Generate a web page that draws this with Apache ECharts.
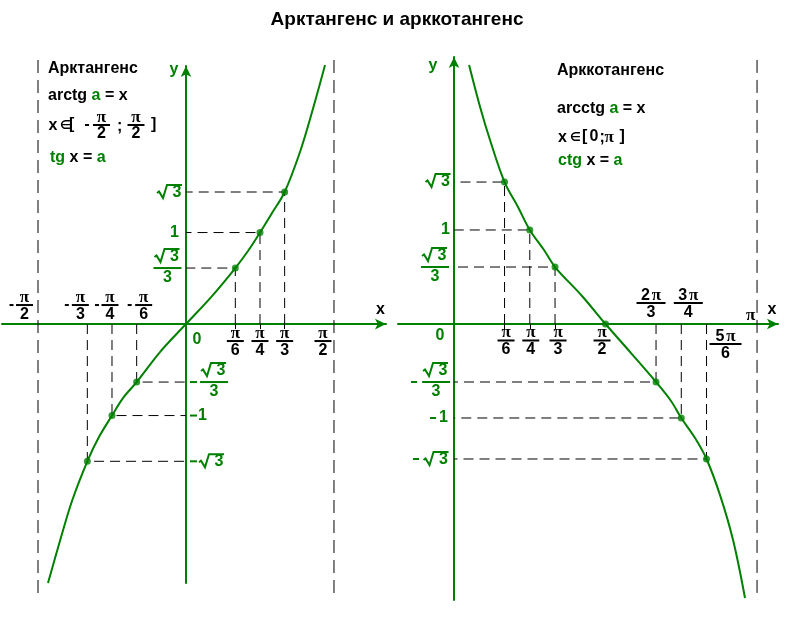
<!DOCTYPE html>
<html><head><meta charset="utf-8">
<script src="https://cdn.jsdelivr.net/npm/echarts@6/dist/echarts.min.js"></script>
<style>html,body{margin:0;padding:0;background:#fff}#c{width:804px;height:623px}</style>
</head><body><div id="c"></div>
<script>
const PI = Math.PI;
// ---------- Left panel: y = tg x (x in radians, y as drawn on the picture's schematic scale)
const tanCurveX = [-1.465, -1.338, -1.210, -PI/3, -0.924, -PI/4, -0.669, -PI/6, -0.276, 0, 0.276, PI/6, 0.658, PI/4, 0.913, PI/3, 1.21, 1.338, 1.476];
const tanCurveY = [-2.831, -2.372, -1.934, -1.50, -1.235, -1.0, -0.809, -0.634, -0.306, 0, 0.306, 0.612, 0.798, 1.0, 1.213, 1.443, 1.88, 2.317, 2.83];
const tanPointsX = [-PI/3, -PI/4, -PI/6, PI/6, PI/4, PI/3];
const tanPointsY = [-1.50, -1.0, -0.634, 0.612, 1.0, 1.443];
const tanAsymptotes = [-PI/2, PI/2];
const tanAsymptoteSpan = [2.885, -3.016];
const tanXTickValues = [-PI/2, -PI/3, -PI/4, -PI/6, PI/6, PI/4, PI/3, PI/2];
const tanXTickLabels = ['-π/2', '-π/3', '-π/4', '-π/6', 'π/6', 'π/4', 'π/3', 'π/2'];
const tanYTickValues = [1.443, 1.0, 0.612, -0.634, -1.0, -1.50];
const tanYTickLabels = ['√3', '1', '√3/3', '-√3/3', '-1', '-√3'];

// ---------- Right panel: y = ctg x
const cotCurveX = [0.156, 0.27, 0.373, PI/6, 0.663, PI/4, 0.933, PI/3, 1.327, PI/2, 1.835, 2*PI/3, 2.25, 3*PI/4, 2.499, 5*PI/6, 2.758, 2.893, 3.017];
const cotCurveY = [2.755, 2.309, 1.957, 1.51, 1.245, 1.0, 0.787, 0.606, 0.298, 0, -0.309, -0.617, -0.819, -1.0, -1.213, -1.436, -1.82, -2.298, -2.915];
const cotPointsX = [PI/6, PI/4, PI/3, PI/2, 2*PI/3, 3*PI/4, 5*PI/6];
const cotPointsY = [1.51, 1.0, 0.606, 0, -0.617, -1.0, -1.436];
const cotAsymptotes = [PI];
const cotAsymptoteSpan = [2.809, -2.936];
const cotXTickValues = [PI/6, PI/4, PI/3, PI/2, 2*PI/3, 3*PI/4, 5*PI/6, PI];
const cotXTickLabels = ['π/6', 'π/4', 'π/3', 'π/2', '2π/3', '3π/4', '5π/6', 'π'];
const cotYTickValues = [1.51, 1.0, 0.606, -0.617, -1.0, -1.436];
const cotYTickLabels = ['√3', '1', '√3/3', '-√3/3', '-1', '-√3'];

// ---------- label layout (pixel offsets from the tick's anchor)
const tanXLayout = [
  {dx:-13.5, dy:-19, mdx:-26.5}, {dx:-7, dy:-19, mdx:-20.5}, {dx:-2, dy:-19, mdx:-15}, {dx:7, dy:-19, mdx:-7},
  {dx:0, dy:17}, {dx:0, dy:17}, {dx:0, dy:17}, {dx:-11, dy:17}
];
const tanYLayout = [
  {dx:-16, dy:0}, {dx:-11.5, dy:0}, {dx:-18.5, dy:0},
  {dx:28, dy:0, mdx:7.5}, {dx:16.5, dy:0, mdx:7.5}, {dx:26, dy:0, mdx:7.5}
];
const cotXLayout = [
  {dx:1.5, dy:16.5}, {dx:1, dy:16.5}, {dx:3, dy:16.5}, {dx:-3.5, dy:16.5},
  {dx:-5, dy:-21}, {dx:7, dy:-21}, {dx:19, dy:20}, {dx:-6.5, dy:-8}
];
const cotYLayout = [
  {dx:-15.5, dy:-1}, {dx:-8.5, dy:0}, {dx:-19, dy:0},
  {dx:-18, dy:0, mdx:-40}, {dx:-10.5, dy:0, mdx:-21}, {dx:-17.5, dy:0, mdx:-38}
];

const G = '#008000';
const K = '#000000';
const SANS = '"Liberation Sans", Arial, sans-serif';
const SERIF = '"Liberation Serif", "Times New Roman", serif';
const FONT = 'bold 16px ' + SANS;
const PFONT = 'bold 17px ' + SERIF;

function richFor(color) {
  return {
    p: {font: PFONT, fill: color},
    n: {font: FONT, fill: color, padding: [0, 2, 0, 0]}
  };
}
function termText(t, cx, cy, color) {
  if (t.indexOf('π') >= 0) {
    const pre = t.replace('π', '');
    const txt = (pre ? '{n|' + pre + '}' : '') + '{p|π}';
    return [{type:'text', style:{text: txt, x: cx, y: cy, align:'center', verticalAlign:'middle', rich: richFor(color), fill: color}}];
  }
  if (t[0] === '√') {
    const d = t.slice(1);
    return [
      {type:'text', style:{text: d, x: cx + 7, y: cy + 0.5, align:'center', verticalAlign:'middle', font: FONT, fill: color}},
      {type:'polyline', shape:{points:[[cx-13, cy+1], [cx-11, cy-0.5], [cx-7, cy+6], [cx-3, cy-7], [cx+12, cy-7]]},
       style:{stroke: color, lineWidth: 2, fill: null}}
    ];
  }
  return [{type:'text', style:{text: t, x: cx, y: cy, align:'center', verticalAlign:'middle', font: FONT, fill: color}}];
}
function barWidth(num) {
  if (num === 'π') return 17;
  if (num[0] === '√') return 28;
  if (num === '5π') return 32;
  return 29;
}
function buildLabel(text, lay, px, py, color, mw) {
  const children = [];
  let body = text;
  const cx = px + lay.dx, cy = py + lay.dy;
  if (text[0] === '-') {
    body = text.slice(1);
    children.push({type:'rect', shape:{x: px + lay.mdx - mw/2, y: cy - 1, width: mw, height: 2}, style:{fill: color}});
  }
  const parts = body.split('/');
  if (parts.length === 2) {
    const w = barWidth(parts[0]);
    children.push({type:'rect', shape:{x: cx - w/2, y: cy - 1, width: w, height: 2}, style:{fill: color}});
    const numOff = parts[0][0] === '√' ? 12 : 7.5;
    children.push(...termText(parts[0], cx, cy - numOff, color));
    children.push(...termText(parts[1], cx, cy + 9.5, color));
  } else {
    children.push(...termText(body, cx, cy, color));
  }
  return {type:'group', children};
}

function labelSeries(gridIdx, items) {
  return {
    type:'custom', xAxisIndex: gridIdx, yAxisIndex: gridIdx, clip:false, silent:true, z:6,
    data: items.map((it, i) => [it.x, it.y, i]),
    renderItem: function (params, api) {
      const it = items[api.value(2)];
      const p = api.coord([api.value(0), api.value(1)]);
      return buildLabel(it.text, it.lay, p[0], p[1], it.color, it.mw);
    }
  };
}
function makeItems(values, labels, layouts, axis, color, mw) {
  return values.map((v, i) => ({
    x: axis === 'x' ? v : 0, y: axis === 'x' ? 0 : v,
    text: labels[i], lay: layouts[i], color, mw
  }));
}

const tanLabels = [].concat(
  makeItems(tanXTickValues, tanXTickLabels, tanXLayout, 'x', K, 4),
  makeItems(tanYTickValues, tanYTickLabels, tanYLayout, 'y', G, 7),
  [{x:0, y:0, text:'0', lay:{dx:11, dy:15.5}, color:G, mw:0}]
);
const cotLabels = [].concat(
  makeItems(cotXTickValues, cotXTickLabels, cotXLayout, 'x', K, 4),
  makeItems(cotYTickValues, cotYTickLabels, cotYLayout, 'y', G, 6),
  [{x:0, y:0, text:'0', lay:{dx:-14, dy:12}, color:G, mw:0}]
);

function zip(xs, ys) { return xs.map((x, i) => [x, ys[i]]); }

function axisX(grid, min, max) {
  return {
    type:'value', gridIndex: grid, min, max,
    axisLine:{show:true, onZero:true, symbol:['none','arrow'], symbolSize:[8, 11], lineStyle:{color:G, width:2}},
    axisTick:{show:true, customValues:[PI/6, PI/4, PI/3], length:5, lineStyle:{color:K, width:1}},
    axisLabel:{show:false}, splitLine:{show:false}
  };
}
function axisY(grid, min, max) {
  return {
    type:'value', gridIndex: grid, min, max,
    axisLine:{show:true, onZero:true, symbol:['none','arrow'], symbolSize:[8, 11], lineStyle:{color:G, width:2}},
    axisTick:{show:false}, axisLabel:{show:false}, splitLine:{show:false}
  };
}

function guideSeries(grid, xs, ys) {
  return xs.map((x, i) => ys[i] === 0 ? null : ({
    type:'line', xAxisIndex:grid, yAxisIndex:grid, symbol:'none', silent:true, z:1,
    data:[[x, 0], [x, ys[i]], [0, ys[i]]],
    lineStyle:{color:K, width:1, type:[10, 6]}
  })).filter(Boolean);
}
function asymptoteSeries(grid, xs, span) {
  return xs.map(x => ({
    type:'line', xAxisIndex:grid, yAxisIndex:grid, symbol:'none', silent:true, clip:false, z:1,
    data:[[x, span[0]], [x, span[1]]],
    lineStyle:{color:K, width:1, type:[13, 7]}
  }));
}

function txt(text, x, y, opt) {
  return {type:'text', silent:true, style:Object.assign({text, x, y, font:FONT, fill:K, verticalAlign:'middle', align:'left'}, opt || {})};
}
function frac(cx, bar, num, den, color) {
  const w = barWidth(num);
  return [
    {type:'rect', silent:true, shape:{x: cx - w/2, y: bar - 1, width: w, height: 2}, style:{fill: color}}
  ].concat(termText(num, cx, bar - 7.5, color), termText(den, cx, bar + 9, color)).map(e => Object.assign(e, {silent:true}));
}
const richG = {g:{font:FONT, fill:G}, p:{font:PFONT, fill:K}};
const EFONT = 'bold 12px "DejaVu Sans"';

const graphic = [].concat(
  [txt('Арктангенс и арккотангенс', 397, 20, {align:'center', font:'bold 19px ' + SANS})],
  // left text block
  [txt('Арктангенс', 48, 69),
   txt('arctg {g|a} = x', 48, 96, {rich: richG}),
   txt('x', 48.5, 126),
   txt('∈', 60, 126, {font: EFONT}),
   txt('[', 69, 125),
   {type:'rect', silent:true, shape:{x:85, y:124, width:4, height:2}, style:{fill:K}}],
  frac(101.5, 125, 'π', '2', K),
  [txt(';', 117, 127)],
  frac(136, 125, 'π', '2', K),
  [txt(']', 151, 125),
   txt('{g|tg} x = {g|a}', 50, 158, {rich: richG})],
  // right text block
  [txt('Арккотангенс', 557, 71),
   txt('arcctg {g|a} = x', 557, 109, {rich: richG}),
   txt('x', 558, 138),
   txt('∈', 570, 138, {font: EFONT}),
   txt('[', 582, 137),
   txt('0', 589.5, 137),
   txt(';', 599.5, 138),
   txt('{p|π}', 604.5, 138, {rich: richG}),
   txt(']', 619.5, 137),
   txt('{g|ctg} x = {g|a}', 558, 161, {rich: richG})],
  // axis names
  [txt('x', 380.5, 310, {align:'center'}),
   txt('y', 174, 70, {align:'center', fill:G}),
   txt('x', 772, 310, {align:'center'}),
   txt('y', 433, 66, {align:'center', fill:G})]
);

const option = {
  animation:false,
  backgroundColor:'#ffffff',
  grid:[
    {left:2, top:66, width:384, height:517},
    {left:398, top:57, width:380, height:543}
  ],
  xAxis:[axisX(0, -1.953, 2.123), axisX(1, -0.581, 3.359)],
  yAxis:[axisY(0, -2.83, 2.82), axisY(1, -2.936, 2.84)],
  graphic,
  series:[].concat(
    asymptoteSeries(0, tanAsymptotes, tanAsymptoteSpan),
    asymptoteSeries(1, cotAsymptotes, cotAsymptoteSpan),
    guideSeries(0, tanPointsX, tanPointsY),
    guideSeries(1, cotPointsX, cotPointsY),
    [
      {type:'line', xAxisIndex:0, yAxisIndex:0, data:zip(tanCurveX, tanCurveY), smooth:0.35,
       showSymbol:false, symbol:'none', lineStyle:{color:G, width:2}, z:3, silent:true},
      {type:'line', xAxisIndex:1, yAxisIndex:1, data:zip(cotCurveX, cotCurveY), smooth:0.35,
       showSymbol:false, symbol:'none', lineStyle:{color:G, width:2}, z:3, silent:true},
      {type:'scatter', xAxisIndex:0, yAxisIndex:0, data:zip(tanPointsX, tanPointsY), symbolSize:7, itemStyle:{color:G}, z:4, silent:true},
      {type:'scatter', xAxisIndex:1, yAxisIndex:1, data:zip(cotPointsX, cotPointsY), symbolSize:7, itemStyle:{color:G}, z:4, silent:true},
      labelSeries(0, tanLabels),
      labelSeries(1, cotLabels)
    ]
  )
};
const chart = echarts.init(document.getElementById('c'), null, {renderer:'canvas'});
chart.setOption(option);
</script></body></html>
